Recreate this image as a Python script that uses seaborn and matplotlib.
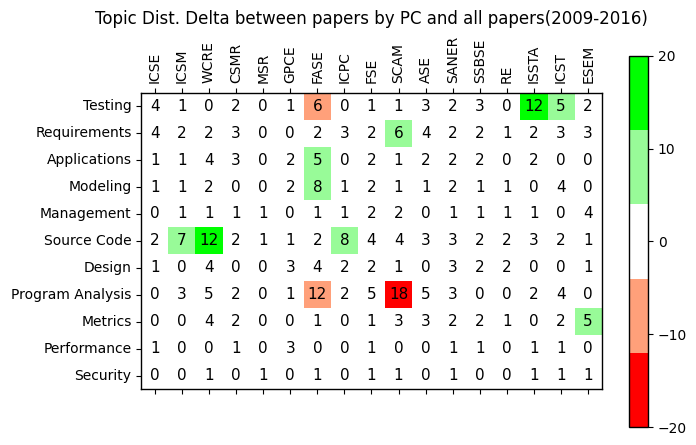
import numpy as np
import matplotlib
matplotlib.use("Agg")
import matplotlib.pyplot as plt
from matplotlib.colors import ListedColormap
import seaborn as sns

topics = ["Testing", "Requirements", "Applications", "Modeling", "Management",
          "Source Code", "Design", "Program Analysis", "Metrics", "Performance",
          "Security"]
venues = ["ICSE", "ICSM", "WCRE", "CSMR", "MSR", "GPCE", "FASE", "ICPC", "FSE",
          "SCAM", "ASE", "SANER", "SSBSE", "RE", "ISSTA", "ICST", "ESEM"]

# numbers printed in the cells
shown = [
    [4, 1, 0, 2, 0, 1, 6, 0, 1, 1, 3, 2, 3, 0, 12, 5, 2],
    [4, 2, 2, 3, 0, 0, 2, 3, 2, 6, 4, 2, 2, 1, 2, 3, 3],
    [1, 1, 4, 3, 0, 2, 5, 0, 2, 1, 2, 2, 2, 0, 2, 0, 0],
    [1, 1, 2, 0, 0, 2, 8, 1, 2, 1, 1, 2, 1, 1, 0, 4, 0],
    [0, 1, 1, 1, 1, 0, 1, 1, 2, 2, 0, 1, 1, 1, 1, 0, 4],
    [2, 7, 12, 2, 1, 1, 2, 8, 4, 4, 3, 3, 2, 2, 3, 2, 1],
    [1, 0, 4, 0, 0, 3, 4, 2, 2, 1, 0, 3, 2, 2, 0, 0, 1],
    [0, 3, 5, 2, 0, 1, 12, 2, 5, 18, 5, 3, 0, 0, 2, 4, 0],
    [0, 0, 4, 2, 0, 0, 1, 0, 1, 3, 3, 2, 2, 1, 0, 2, 5],
    [1, 0, 0, 1, 0, 3, 0, 0, 1, 0, 0, 1, 1, 0, 1, 1, 0],
    [0, 0, 1, 0, 1, 0, 1, 0, 1, 1, 0, 1, 0, 0, 1, 1, 1],
]

# signed delta used for the cell colour (estimated from the colour bins)
delta = [
    [1, 0, 0, 1, 0, 0, -8, 0, 0, 0, 1, 1, 1, 0, 14, 7, 1],
    [2, 1, 1, 1, 0, 0, 1, 1, 1, 6, 2, 1, 1, 0, 1, 1, 1],
    [0, 0, 2, 1, 0, 1, 5, 0, 1, 0, 1, 1, 1, 0, 1, 0, 0],
    [0, 0, 1, 0, 0, 1, 8, 0, 1, 0, 0, 1, 0, 0, 0, 2, 0],
    [0, 0, 0, 0, 0, 0, 0, 0, 1, 1, 0, 0, 0, 0, 0, 0, 2],
    [1, 7, 13, 1, 0, 0, 1, 8, 2, 2, 1, 1, 1, 1, 1, 1, 0],
    [0, 0, 2, 0, 0, 1, 2, 1, 1, 0, 0, 1, 1, 1, 0, 0, 0],
    [0, -1, -2, -1, 0, 0, -10, -1, -3, -16, -3, -1, 0, 0, -1, -2, 0],
    [0, 0, 2, 1, 0, 0, 0, 0, 0, 1, 1, 1, 1, 0, 0, 1, 5],
    [0, 0, 0, 0, 0, 1, 0, 0, 0, 0, 0, 0, 0, 0, 0, 0, 0],
    [0, 0, 0, 0, 0, 0, 0, 0, 0, 0, 0, 0, 0, 0, 0, 0, 0],
]

bin_colors = ["#ff0000", "#ffa07a", "#ffffff", "#98fb98", "#00ff00"]
cmap = ListedColormap(bin_colors)

fig = plt.figure(figsize=(6.96, 4.45), dpi=100)
ax = fig.add_axes([0.203, 0.125, 0.6615, 0.667])
cax = fig.add_axes([0.904, 0.040, 0.027, 0.835])

sns.heatmap(np.array(delta), annot=np.array(shown), fmt="d", cmap=cmap,
            vmin=-20, vmax=20, xticklabels=venues, yticklabels=topics,
            cbar_ax=cax, annot_kws={"color": "black", "fontsize": 11}, ax=ax)

ax.tick_params(axis="x", top=True, bottom=True, labeltop=True, labelbottom=False,
               labelrotation=90, length=3.5, width=0.8, labelsize=10)
ax.tick_params(axis="y", left=True, labelrotation=0, length=3.5, width=0.8,
               labelsize=10)
for s in ax.spines.values():
    s.set_visible(True)
    s.set_linewidth(1.0)
    s.set_color("black")

cbar = ax.collections[0].colorbar
cbar.set_ticks([-20, -10, 0, 10, 20])
cbar.outline.set_linewidth(1.0)
cbar.outline.set_edgecolor("black")
cax.tick_params(length=3.5, width=0.8, labelsize=10)

ax.set_title("Topic Dist. Delta between papers by PC and all papers(2009-2016)",
             fontsize=12, pad=8)

fig.savefig("out.png", dpi=100)
